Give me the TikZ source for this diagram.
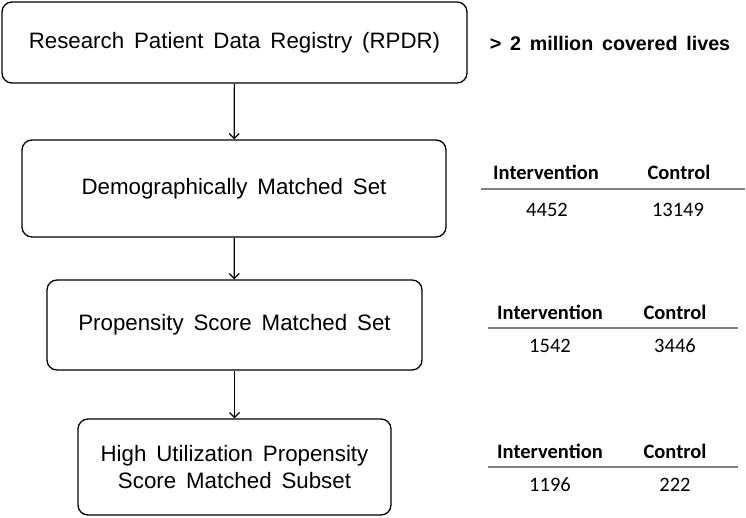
\documentclass[tikz,border=0pt]{standalone}
\usepackage{fontspec}
\setmainfont{Liberation Sans}[WordSpace=1.6]
\newfontfamily\tabfont{Carlito}
\usetikzlibrary{arrows.meta}

\tikzset{
stagebox/.style={draw, line width=1.3pt, rounded corners=10pt, align=center, inner sep=0pt, font=\fontsize{22.3}{27}\selectfont},
tabhead/.style={font=\tabfont\bfseries\fontsize{20.5}{24}\selectfont},
tabcount/.style={font=\tabfont\fontsize{20.5}{24}\selectfont},
flow/.style={line width=1.2pt, -{Straight Barb[length=5pt,width=10pt]}},
tabrule/.style={line width=1.4pt, black!50}
}

\begin{document}
\begin{tikzpicture}[x=1pt, y=-1pt]
\useasboundingbox (0,0) rectangle (746,518);

\node[stagebox, minimum width=465pt, minimum height=81pt] (rpdr) at (234.5,42.5) {Research Patient Data Registry (RPDR)};
\node[stagebox, minimum width=424pt, minimum height=97pt] (demo) at (234,188.5) {Demographically Matched Set};
\node[stagebox, minimum width=375pt, minimum height=90pt] (prop) at (234.5,325) {Propensity Score Matched Set};
\node[stagebox, minimum width=313pt, minimum height=96pt] (high) at (234.5,467) {High Utilization Propensity\\Score Matched Subset};

\draw[flow] (rpdr) -- (demo);
\draw[flow] (demo) -- (prop);
\draw[flow] (prop) -- (high);

\node[font=\bfseries\fontsize{19.7}{24}\selectfont] (lives) at (610,43) {> 2 million covered lives};

% demographic match
\node[tabhead] (demoint) at (546,172) {Intervention};
\node[tabhead] (democon) at (679,172) {Control};
\draw[tabrule] (481,189) -- (745,189);
\node[tabcount] (demointn) at (547,210) {4452};
\node[tabcount] (democonn) at (678,210) {13149};

% propensity match
\node[tabhead] (propint) at (550,312) {Intervention};
\node[tabhead] (propcon) at (675,312) {Control};
\draw[tabrule] (488,328) -- (738,328);
\node[tabcount] (propintn) at (550,346) {1542};
\node[tabcount] (propconn) at (675,346) {3446};

% high utilization subset
\node[tabhead] (highint) at (550,451) {Intervention};
\node[tabhead] (highcon) at (675,451) {Control};
\draw[tabrule] (488,467) -- (738,467);
\node[tabcount] (highintn) at (550,485) {1196};
\node[tabcount] (highconn) at (675,485) {222};
\end{tikzpicture}
\end{document}
